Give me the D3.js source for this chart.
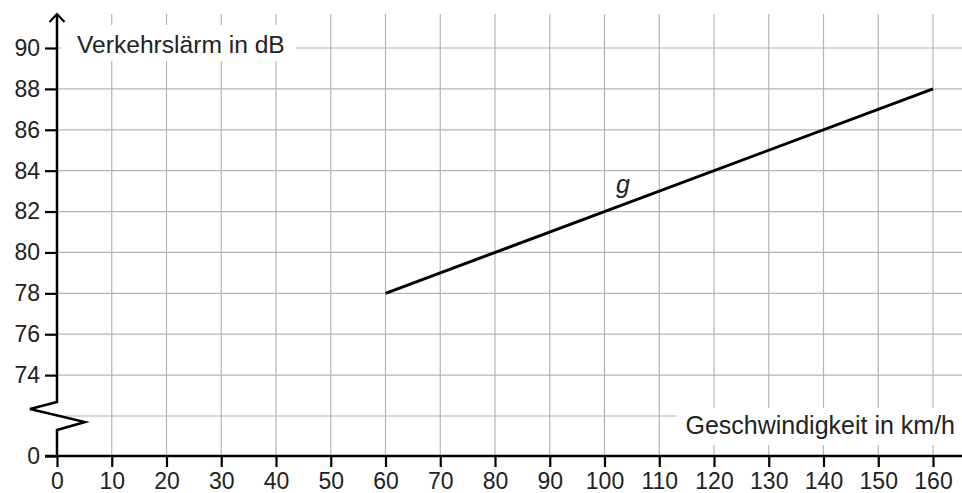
<!DOCTYPE html>
<html><head><meta charset="utf-8">
<script src="https://cdn.jsdelivr.net/npm/d3@7"></script>
<style>
html,body{margin:0;padding:0;background:#fff;}
svg{display:block;font-family:"Liberation Sans",Arial,Helvetica,sans-serif;}
</style></head>
<body>
<svg id="chart" width="962" height="493"></svg>
<script>
// ---- data ----
const xTicks = [0,10,20,30,40,50,60,70,80,90,100,110,120,130,140,150,160];
const yTicks = [0,74,76,78,80,82,84,86,88,90];
const yGrid = [72,74,76,78,80,82,84,86,88,90];
const lineX = [60,160];
const lineY = [78,88];
const xTitle = "Geschwindigkeit in km/h";
const yTitle = "Verkehrslärm in dB";
const lineLabel = "g";

// ---- layout ----
const svg = d3.select("#chart");
const W = 962, H = 493;
const x = d3.scaleLinear().domain([0,160]).range([57,933]);
const y = d3.scaleLinear().domain([0,72,90]).range([456,416,48]);
const topY = 14;
const gridColor = "#b4b4b4";

// grid
const grid = svg.append("g");
grid.selectAll(".vg").data(xTicks.filter(d=>d>0)).join("line")
  .attr("x1",d=>x(d)).attr("x2",d=>x(d)).attr("y1",topY).attr("y2",y(0))
  .attr("stroke",gridColor).attr("stroke-width",1.2);
grid.selectAll(".hg").data(yGrid).join("line")
  .attr("x1",x(0)).attr("x2",W).attr("y1",d=>y(d)).attr("y2",d=>y(d))
  .attr("stroke",gridColor).attr("stroke-width",1.2);

// white label boxes
svg.append("rect").attr("x",62).attr("y",25).attr("width",234).attr("height",36).attr("fill","#fff");
svg.append("rect").attr("x",676).attr("y",408).attr("width",W-676).attr("height",37).attr("fill","#fff");

// axes
const fs = 23;
const ax = svg.append("g").attr("transform",`translate(0,${y(0)})`)
  .call(d3.axisBottom(x).tickValues(xTicks).tickSize(11).tickPadding(0).tickFormat(d3.format("d")));
ax.select(".domain").remove();
ax.selectAll(".tick line").attr("stroke","#000").attr("stroke-width",2.2);
ax.selectAll(".tick text").attr("font-size",fs).attr("fill","#222")
  .attr("font-family","Liberation Sans, Arial, sans-serif")
  .attr("dy",null).attr("y",32.5);

const ay = svg.append("g").attr("transform",`translate(${x(0)},0)`)
  .call(d3.axisLeft(y).tickValues(yTicks).tickSize(12).tickPadding(5).tickFormat(d3.format("d")));
ay.select(".domain").remove();
ay.selectAll(".tick line").attr("stroke","#000").attr("stroke-width",2.2);
ay.selectAll(".tick text").attr("font-size",fs).attr("fill","#222").attr("font-family","Liberation Sans, Arial, sans-serif");

// x axis line
svg.append("line").attr("x1",45).attr("x2",W).attr("y1",y(0)).attr("y2",y(0))
  .attr("stroke","#000").attr("stroke-width",2.5);

// y axis line with break zigzag
const x0 = x(0), yb = y(0);
const axisPath = d3.path();
axisPath.moveTo(x0, yb);
axisPath.lineTo(x0, yb-26);
axisPath.lineTo(x0+28, yb-34);
axisPath.lineTo(x0-27, yb-47);
axisPath.lineTo(x0, yb-54);
axisPath.lineTo(x0, topY);
svg.append("path").attr("d",axisPath.toString()).attr("fill","none")
  .attr("stroke","#000").attr("stroke-width",2.5).attr("stroke-linejoin","miter");
// arrow head
svg.append("path").attr("d",`M${x0-7.5},${topY+8}L${x0},${topY}L${x0+7.5},${topY+8}`)
  .attr("fill","none").attr("stroke","#000").attr("stroke-width",2.2);

// function line
const line = d3.line().x(d=>x(d[0])).y(d=>y(d[1]));
svg.append("path").datum(lineX.map((d,i)=>[d,lineY[i]])).attr("d",line)
  .attr("fill","none").attr("stroke","#000").attr("stroke-width",3);

// labels
svg.append("text").attr("x",77).attr("y",53).attr("font-size",24.6).attr("fill","#222").text(yTitle);
svg.append("text").attr("x",955).attr("y",434).attr("text-anchor","end").attr("font-size",25).attr("fill","#222").text(xTitle);
svg.append("text").attr("x",616).attr("y",193).attr("font-size",25).attr("font-style","italic").attr("fill","#222").text(lineLabel);
</script>
</body></html>
